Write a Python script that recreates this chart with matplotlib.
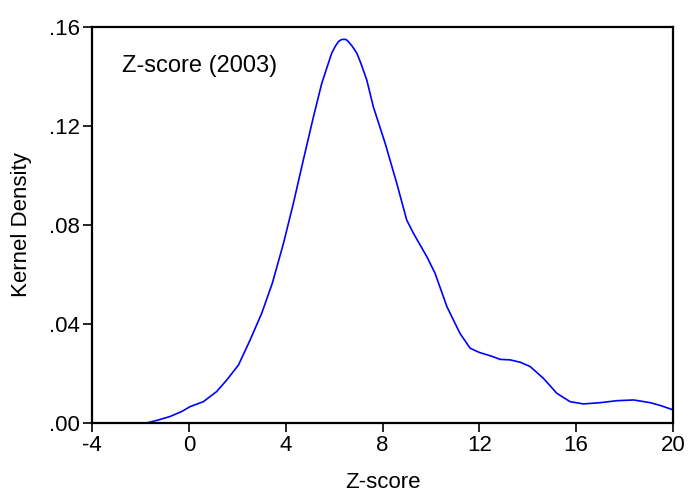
import matplotlib.pyplot as plt

# Dados ###############################################################################

z = [-1.74, -1.3, -0.78, -0.3, 0.05, 0.6, 1.15, 1.57, 2.05, 2.53, 3.01, 3.45,
     3.91, 4.32, 4.73, 5.15, 5.49, 5.90, 6.05, 6.18, 6.3, 6.41, 6.5, 6.59,
     6.75, 6.94, 7.1, 7.35, 7.62, 8.11, 8.59, 9.00, 9.28, 9.83, 10.17, 10.66,
     11.2, 11.62, 12.0, 12.5, 12.86, 13.27, 13.7, 14.1, 14.65, 15.2, 15.75,
     16.3, 16.99, 17.68, 18.37, 19.06, 19.5, 20.0]
densidade = [0.0, 0.0011, 0.0026, 0.0046, 0.0066, 0.0086, 0.0127, 0.0174,
             0.0234, 0.0335, 0.0443, 0.0565, 0.0726, 0.0888, 0.1063, 0.1238,
             0.1372, 0.1494, 0.1522, 0.1541, 0.1549, 0.1550, 0.1549, 0.1541,
             0.1522, 0.1494, 0.1455, 0.1386, 0.1278, 0.1130, 0.0968, 0.0820,
             0.0766, 0.0672, 0.0605, 0.0470, 0.0362, 0.0302, 0.0285, 0.0270,
             0.0257, 0.0255, 0.0245, 0.0228, 0.0180, 0.0120, 0.0086, 0.0077,
             0.0082, 0.0090, 0.0093, 0.0082, 0.0070, 0.0053]

xticks = [-4, 0, 4, 8, 12, 16, 20]
yticks = [0.0, 0.04, 0.08, 0.12, 0.16]
ylabels = [".00", ".04", ".08", ".12", ".16"]

# Grafico ##############################################################################

plt.rcParams['font.family'] = ['Liberation Sans', 'DejaVu Sans']

fig = plt.figure(figsize=(6.9, 4.95), dpi=100)
ax = fig.add_axes([0.1333, 0.1455, 0.8421, 0.8])

ax.plot(z, densidade, color="#0000ff", linewidth=1.2)

ax.set_xlim(-4, 20)
ax.set_ylim(0, 0.16)
ax.set_xticks(xticks)
ax.set_xticklabels([str(t) for t in xticks])
ax.set_yticks(yticks)
ax.set_yticklabels(ylabels)
ax.tick_params(direction="out", length=6.5, width=1.2, labelsize=16, pad=2)

for s in ax.spines.values():
    s.set_linewidth(1.6)

ax.text(0.051, 0.8856, "Z-score (2003)", transform=ax.transAxes, fontsize=17,
        va="baseline", ha="left")
ax.set_xlabel("Z-score", fontsize=16)
ax.set_ylabel("Kernel Density", fontsize=16)
ax.xaxis.set_label_coords(0.5, -0.125)
ax.yaxis.set_label_coords(-0.104, 0.5)

fig.savefig("out.png", dpi=100)
